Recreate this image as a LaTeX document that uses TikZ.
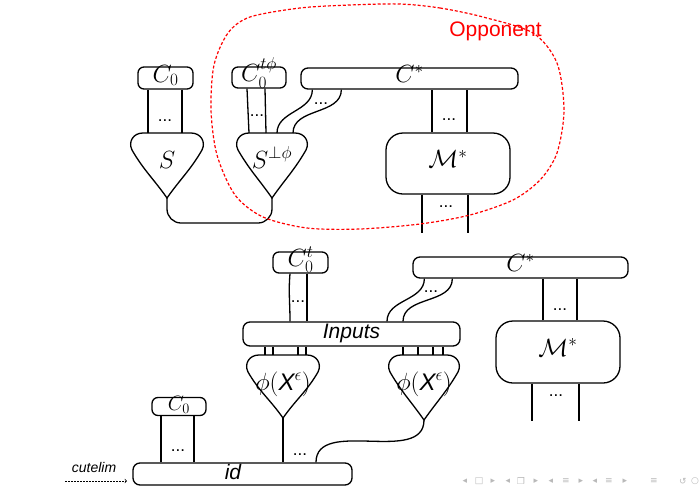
\documentclass[tikz,border=0pt]{standalone}
\usepackage{amsmath}
\usepackage{fontspec}
\setsansfont{Liberation Sans}
\newfontfamily\navfont{DejaVu Sans}
\usetikzlibrary{arrows,positioning}

\tikzset{
  wire/.style={line width=1.3pt},
  box/.style={draw,line width=1.3pt,rounded corners=6pt,inner sep=0pt,
    text height=14pt,text depth=6pt,font=\fontsize{23}{26}\selectfont},
  bar/.style={box,rounded corners=7pt},
  bigbox/.style={box,rounded corners=17pt},
  conelbl/.style={anchor=base,inner sep=0pt,font=\fontsize{23}{26}\selectfont},
  dotlbl/.style={inner sep=0pt,font=\sffamily\fontsize{17}{18}\selectfont},
  oppline/.style={draw=red,line width=1.2pt,dash pattern=on 3pt off 2pt},
  opplbl/.style={anchor=base,inner sep=0pt,text=red,font=\sffamily\fontsize{21}{24}\selectfont},
  cutlbl/.style={anchor=base,inner sep=0pt,font=\sffamily\itshape\fontsize{14}{16}\selectfont},
  navsym/.style={inner sep=0pt,text=gray!55,font=\navfont\fontsize{9}{10}\selectfont}
}

% funnel: name, x centre, y top, half width, y tip, label
\newcommand{\funnelshape}[6]{%
  \draw[wire] (#2,#5) to[out=125,in=-60] ({#2-#4+2},{#3+17})
     .. controls ({#2-#4-2},{#3+9}) and ({#2-#4+3},{#3}) .. ({#2-#4+13},{#3})
     -- ({#2+#4-13},{#3})
     .. controls ({#2+#4-3},{#3}) and ({#2+#4+2},{#3+9}) .. ({#2+#4-2},{#3+17})
     to[out=-120,in=55] (#2,#5) -- cycle;
  \coordinate (#1-top) at (#2,#3);
  \coordinate (#1-tip) at (#2,#5);
  \node[conelbl] (#1) at (#2,{#3+35}) {#6};
}

\begin{document}
\begin{tikzpicture}[x=1pt,y=-1pt]
\useasboundingbox (0,0) rectangle (699,488);

% upper diagram
\node[box,minimum width=55pt,minimum height=22pt] (c0a) at (165.5,78) {$C_0$};
\node[box,minimum width=54pt,minimum height=21pt] (c0t) at (259,77.5) {$C_0^{t\phi}$};
\node[bar,minimum width=217pt,minimum height=21pt] (cstara) at (409.5,78.5) {$C^*$};
\node[bigbox,minimum width=124pt,minimum height=61pt] (mstara) at (448,163.5) {$\mathcal{M}^*$};
\funnelshape{s}{167}{133}{37}{198}{$S$}
\funnelshape{sphi}{272}{133}{36}{198}{$S^{\perp\phi}$}

\foreach \dx in {-17.5,16.5}
  \draw[wire] ([xshift=\dx pt]c0a.south) -- ([xshift=\dx pt]c0a.south |- s-top);
\draw[wire] ([xshift=-12pt]c0t.south) -- ([xshift=-10pt]c0t.south |- sphi-top);
\draw[wire] ([xshift=6pt]c0t.south) -- ([xshift=7pt]c0t.south |- sphi-top);
\draw[wire] ([xshift=12pt]cstara.south west) to[out=-90,in=90] ([xshift=5pt]sphi-top);
\draw[wire] ([xshift=41pt]cstara.south west) to[out=-90,in=90] ([xshift=21pt]sphi-top);
\foreach \dx in {-16,19}
  \draw[wire] ([xshift=\dx pt]mstara.north) -- ([xshift=\dx pt]mstara.north |- cstara.south);
\draw[wire] ([xshift=-26pt]mstara.south) -- ++(0,38);
\draw[wire] ([xshift=20pt]mstara.south) -- ++(0,38);
\draw[wire,rounded corners=14pt] (s-tip) -- ++(0,25) -| (sphi-tip);

\node[dotlbl] (d1) at (165,121) {...};
\node[dotlbl] (d2) at (257,116) {...};
\node[dotlbl] (d3) at (321,104) {...};
\node[dotlbl] (d4) at (449,120) {...};
\node[dotlbl] (d5) at (446,207) {...};

% opponent
\draw[oppline] plot[smooth cycle] coordinates {(400,4) (440,8) (483,17) (533,33)
  (557,63) (564,110) (557,153) (540,180) (513,200) (470,215) (420,224) (360,229)
  (307,228) (263,217) (235,195) (217,155) (211,110) (214,65) (228,33) (250,17)
  (300,8) (350,5)};
\node[opplbl] (opp) at (495.5,36) {Opponent};

% lower diagram
\node[box,minimum width=55pt,minimum height=21pt] (c0tb) at (300.5,262.5) {$C_0^t$};
\node[bar,minimum width=215pt,minimum height=21pt] (cstarb) at (520.5,267.5) {$C^*$};
\node[bigbox,minimum width=124pt,minimum height=62pt] (mstarb) at (558,352) {$\mathcal{M}^*$};
\node[bar,minimum width=217pt,minimum height=24pt,font=\sffamily\itshape\fontsize{21}{24}\selectfont] (inputs) at (351.5,334) {Inputs};
\funnelshape{phia}{283}{355}{37}{418}{\fontsize{24}{26}\selectfont$\phi(\text{\sffamily\itshape X}^{\epsilon})$}
\funnelshape{phib}{424}{355}{36}{420}{\fontsize{24}{26}\selectfont$\phi(\text{\sffamily\itshape X}^{\epsilon})$}
\node[box,minimum width=54pt,minimum height=18pt,text height=12pt,text depth=4pt,font=\fontsize{20}{22}\selectfont] (c0b) at (179,406.5) {$C_0$};
\node[bar,minimum width=219pt,minimum height=22pt] (id) at (242.5,474) {};
\node[conelbl,font=\sffamily\itshape\fontsize{21}{24}\selectfont] (idlbl) at (233,479) {id};

\draw[wire] ([xshift=-10.5pt]c0tb.south) to[out=-95,in=90] ([xshift=-10.5pt]c0tb.south |- inputs.north);
\draw[wire] ([xshift=6.5pt]c0tb.south) -- ([xshift=6.5pt]c0tb.south |- inputs.north);
\draw[wire] ([xshift=12pt]cstarb.south west) to[out=-90,in=90] ([xshift=35.5pt]inputs.north);
\draw[wire] ([xshift=40pt]cstarb.south west) to[out=-90,in=90] ([xshift=51.5pt]inputs.north);
\foreach \dx in {-15,19}
  \draw[wire] ([xshift=\dx pt]mstarb.north) -- ([xshift=\dx pt]mstarb.north |- cstarb.south);
\draw[wire] ([xshift=-26pt]mstarb.south) -- ++(0,37);
\draw[wire] ([xshift=21pt]mstarb.south) -- ++(0,37);
\foreach \dx in {-18,-10,15,23}
  \draw[wire] ([xshift=\dx pt]phia-top) -- ([xshift=\dx pt]phia-top |- inputs.south);
\foreach \dx in {-21,-6,9,19}
  \draw[wire] ([xshift=\dx pt]phib-top) -- ([xshift=\dx pt]phib-top |- inputs.south);
\draw[wire] (phia-tip) -- (phia-tip |- id.north);
\draw[wire] (phib-tip) to[out=-90,in=90] ([xshift=73.5pt]id.north);
\foreach \dx in {-18,15}
  \draw[wire] ([xshift=\dx pt]c0b.south) -- ([xshift=\dx pt]c0b.south |- id.north);

\node[dotlbl] (d6) at (298,302) {...};
\node[dotlbl] (d7) at (431,292) {...};
\node[dotlbl] (d8) at (560,310) {...};
\node[dotlbl] (d9) at (556,396) {...};
\node[dotlbl] (d10) at (178,451) {...};
\node[dotlbl] (d11) at (300,455) {...};

% cut elimination arrow
\node[cutlbl] (cut) at (94,472) {cutelim};
\coordinate (cutstart) at (65,481);
\coordinate (cutend) at (127,481);
\draw[->,line width=0.7pt,dash pattern=on 2pt off 1pt] (cutstart) -- (cutend);

% navigation symbols
\foreach \x/\s in {465/◂,479/□,493/▸,508/◂,521/❐,536/▸,551/◂,566/≡,581/▸,595/◂,609/≡,625/▸,654/≡,683/↺,695/○}
  \node[navsym] (nav-\x) at (\x,481) {\s};
\end{tikzpicture}
\end{document}
